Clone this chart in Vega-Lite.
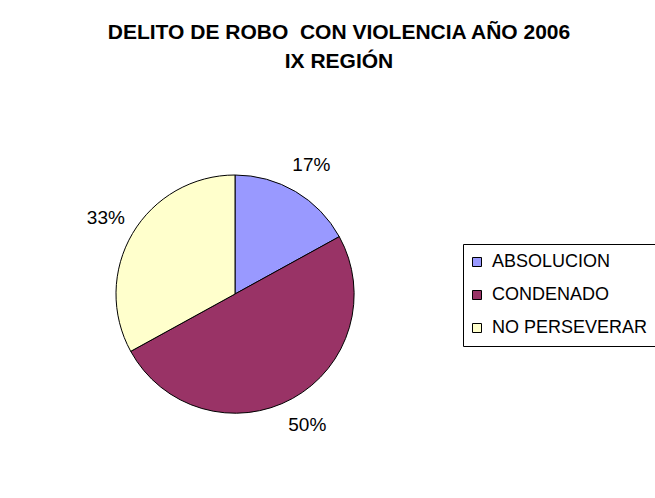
{
  "$schema": "https://vega.github.io/schema/vega-lite/v6.json",
  "width": 454,
  "height": 582,
  "autosize": {"type": "none"},
  "padding": {"left": 8, "top": 3, "right": 193, "bottom": 0},
  "background": "white",
  "title": {
    "text": ["DELITO DE ROBO\u00a0 CON VIOLENCIA AÑO 2006", "IX REGIÓN"],
    "font": "Liberation Sans",
    "fontSize": 21,
    "fontWeight": "bold",
    "color": "black",
    "anchor": "middle",
    "baseline": "top",
    "offset": 0,
    "dx": 104,
    "dy": 69,
    "lineHeight": 29
  },
  "data": {
    "values": [
      {"categoria": "ABSOLUCION", "fraccion": 0.17},
      {"categoria": "CONDENADO", "fraccion": 0.50},
      {"categoria": "NO PERSEVERAR", "fraccion": 0.33}
    ]
  },
  "encoding": {
    "theta": {"field": "fraccion", "type": "quantitative", "stack": true},
    "order": {"field": "categoria", "sort": "ascending"},
    "color": {
      "field": "categoria",
      "type": "nominal",
      "scale": {
        "domain": ["ABSOLUCION", "CONDENADO", "NO PERSEVERAR"],
        "range": ["#9999FF", "#993366", "#FFFFCC"]
      },
      "legend": {
        "orient": "none",
        "legendX": 455,
        "legendY": 241,
        "title": null,
        "strokeColor": "black",
        "fillColor": "white",
        "padding": 9,
        "labelFont": "Liberation Sans",
        "labelFontSize": 18,
        "labelColor": "black",
        "labelLimit": 300,
        "symbolType": "square",
        "symbolSize": 81,
        "symbolStrokeColor": "black",
        "symbolStrokeWidth": 1,
        "symbolOpacity": 1,
        "symbolOffset": -4,
        "rowPadding": 15,
        "labelOffset": 6
      }
    }
  },
  "layer": [
    {
      "mark": {"type": "arc", "outerRadius": 119, "stroke": "black", "strokeWidth": 1, "opacity": 1}
    },
    {
      "mark": {"type": "text", "radius": 150, "font": "Liberation Sans", "fontSize": 19, "fill": "black"},
      "encoding": {
        "text": {"field": "fraccion", "type": "quantitative", "format": ".0%"},
        "color": {"value": "black"}
      }
    }
  ],
  "config": {
    "view": {"stroke": null}
  }
}
